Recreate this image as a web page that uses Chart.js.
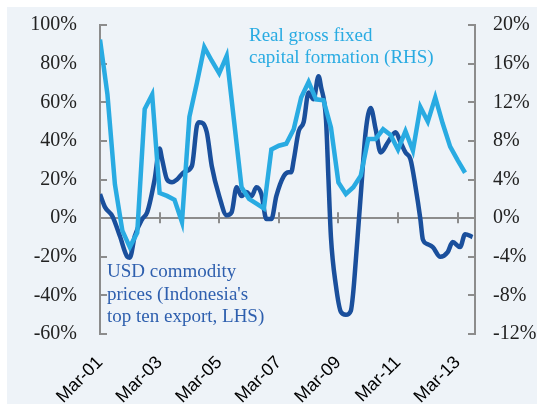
<!DOCTYPE html>
<html>
<head>
<meta charset="utf-8">
<script src="https://cdn.jsdelivr.net/npm/chart.js@4"></script>
<style>
  html, body { margin: 0; padding: 0; background: #fff; }
  #chart { display: block; }
</style>
</head>
<body>
<canvas id="chart" width="537" height="404"></canvas>
<script>
// x axis: months since Mar-01
const tickMonths = [0, 24, 48, 72, 96, 120, 144];
const tickLabels = ['Mar-01', 'Mar-03', 'Mar-05', 'Mar-07', 'Mar-09', 'Mar-11', 'Mar-13'];

// USD commodity prices (Indonesia's top ten export), % y/y, LHS
const commodityMonths = [0, 2, 5, 8, 11, 12, 14, 17, 19, 22, 24, 25, 27, 29, 31, 34, 37, 39, 40, 43, 45, 48, 51, 53, 55, 57, 59, 61, 63, 65, 67, 69, 71, 74, 76, 77, 78, 80, 82, 84, 86, 88, 89, 91, 92, 93, 95, 97, 99, 101, 102, 103, 104, 105, 107, 109, 111, 113, 116, 119, 121, 123, 125, 127, 129, 130, 132, 134, 137, 140, 142, 145, 147, 150];
const commodityValues = [12.4, 5.7, 1, -9.3, -20, -20.5, -9.3, -0.5, 3, 20, 36, 30.5, 20, 18.6, 20, 24, 27, 47.7, 49.7, 44.5, 27, 11.4, 1.5, 3, 16, 11.4, 13.5, 11.4, 16, 12.4, -0.5, -0.5, 11.4, 21.8, 23.8, 23.8, 30, 45, 49.7, 65, 61.6, 73.5, 68, 51, 20, -10, -35, -48.5, -50, -48, -38, -22, -5, 12, 45, 57, 46, 34, 39.4, 44.5, 39.4, 34, 30.5, 16.6, -0.5, -11, -13.5, -15, -20, -17.6, -12.4, -15, -8.3, -9.8];

// Real gross fixed capital formation, % y/y, RHS (quarterly)
const gfcfMonths = [0, 3, 6, 9, 12, 15, 18, 21, 24, 27, 30, 33, 36, 39, 42, 45, 48, 51, 54, 57, 60, 63, 66, 69, 72, 75, 78, 81, 84, 87, 90, 93, 96, 99, 102, 105, 108, 111, 114, 117, 120, 123, 126, 129, 132, 135, 138, 141, 144, 147];
const gfcfValues = [18.5, 12.8, 3.5, -1.3, -3.0, -1.5, 11.3, 12.8, 2.6, 2.3, 1.9, -0.4, 10.5, 14.0, 17.7, 16.3, 15.0, 16.8, 10.0, 3.2, 2.0, 1.5, 1.0, 7.1, 7.5, 7.7, 9.2, 12.5, 14.1, 12.3, 12.2, 9.4, 3.7, 2.5, 3.2, 4.4, 8.2, 8.2, 9.2, 8.6, 7.1, 9.0, 7.0, 11.5, 10.0, 12.5, 9.8, 7.4, 6.0, 4.7];

const DARK = '#1A4F9C';
const LIGHT = '#29ABE2';
const AXIS = '#8C8C8C';
const SERIF = "'Liberation Serif', 'Times New Roman', serif";

const toPoints = (xs, ys) => xs.map((x, i) => ({ x: x, y: ys[i] }));

// background panel, inner tick marks and the two text notes
const decorations = {
  id: 'decorations',
  beforeDraw(chart) {
    const ctx = chart.ctx;
    ctx.save();
    ctx.fillStyle = '#EEF3F8';
    ctx.fillRect(7, 7, chart.width - 7, chart.height - 7);
    ctx.restore();
  },
  beforeDatasetsDraw(chart) {
    const { ctx, chartArea, scales } = chart;
    ctx.save();
    ctx.strokeStyle = AXIS;
    ctx.lineWidth = 2;
    ctx.beginPath();
    scales.y.ticks.forEach(t => {
      const py = Math.round(scales.y.getPixelForValue(t.value));
      ctx.moveTo(chartArea.left, py);
      ctx.lineTo(chartArea.left + 7, py);
    });
    scales.y1.ticks.forEach(t => {
      const py = Math.round(scales.y1.getPixelForValue(t.value));
      ctx.moveTo(chartArea.right - 7, py);
      ctx.lineTo(chartArea.right, py);
    });
    const y0 = scales.y.getPixelForValue(0);
    tickMonths.forEach(m => {
      const px = Math.round(scales.x.getPixelForValue(m));
      ctx.moveTo(px, y0 - 6);
      ctx.lineTo(px, y0 + 5);
    });
    ctx.stroke();
    ctx.restore();
  },
  afterDraw(chart) {
    const ctx = chart.ctx;
    ctx.save();
    ctx.font = '19px ' + SERIF;
    ctx.textBaseline = 'middle';
    ctx.fillStyle = LIGHT;
    ctx.fillText('Real gross fixed', 249, 36);
    ctx.fillText('capital formation (RHS)', 249, 58);
    ctx.fillStyle = '#2E5FAE';
    ctx.fillText('USD commodity', 107, 272);
    ctx.fillText("prices (Indonesia's", 107, 295);
    ctx.fillText('top ten export, LHS)', 107, 317);
    ctx.restore();
  }
};

const fixBox = (w, h) => scale => {
  if (w !== null) scale.width = w;
  if (h !== null) scale.height = h;
  scale.paddingTop = 0;
  scale.paddingBottom = 0;
  scale.paddingLeft = 0;
  scale.paddingRight = 0;
};

new Chart(document.getElementById('chart'), {
  type: 'line',
  data: {
    datasets: [
      {
        label: 'Real gross fixed capital formation (RHS)',
        data: toPoints(gfcfMonths, gfcfValues),
        yAxisID: 'y1',
        borderColor: LIGHT,
        borderWidth: 4.5,
        pointRadius: 0,
        tension: 0,
        order: 0
      },
      {
        label: "USD commodity prices (Indonesia's top ten export, LHS)",
        data: toPoints(commodityMonths, commodityValues),
        yAxisID: 'y',
        borderColor: DARK,
        borderWidth: 4.5,
        pointRadius: 0,
        cubicInterpolationMode: 'monotone',
        order: 1
      }
    ]
  },
  options: {
    responsive: false,
    animation: false,
    devicePixelRatio: 1,
    layout: { padding: { top: 25, left: 0, right: 0, bottom: 0 } },
    plugins: {
      legend: { display: false },
      tooltip: { enabled: false }
    },
    scales: {
      x: {
        type: 'linear',
        min: 0,
        max: 151,
        grid: { display: false },
        border: { display: false },
        afterBuildTicks: scale => {
          scale.ticks = tickMonths.map(v => ({ value: v }));
        },
        afterFit: fixBox(null, 70),
        ticks: {
          autoSkip: false,
          maxRotation: 45,
          minRotation: 45,
          padding: 10,
          color: '#000',
          font: { family: "'Liberation Sans', Arial, sans-serif", size: 18 },
          callback: value => tickLabels[tickMonths.indexOf(value)]
        }
      },
      y: {
        position: 'left',
        min: -60,
        max: 100,
        afterFit: fixBox(100, null),
        grid: {
          drawTicks: false,
          lineWidth: 2,
          color: ctx => (ctx.tick && ctx.tick.value === 0 ? AXIS : 'rgba(0,0,0,0)')
        },
        border: { color: AXIS, width: 2 },
        ticks: {
          stepSize: 20,
          padding: 23,
          color: '#222',
          font: { family: SERIF, size: 20 },
          callback: v => v + '%'
        }
      },
      y1: {
        position: 'right',
        min: -12,
        max: 20,
        afterFit: fixBox(62, null),
        grid: { drawOnChartArea: false, drawTicks: false },
        border: { color: AXIS, width: 2 },
        ticks: {
          stepSize: 4,
          padding: 18,
          color: '#222',
          font: { family: SERIF, size: 20 },
          callback: v => v + '%'
        }
      }
    }
  },
  plugins: [decorations]
});
</script>
</body>
</html>
